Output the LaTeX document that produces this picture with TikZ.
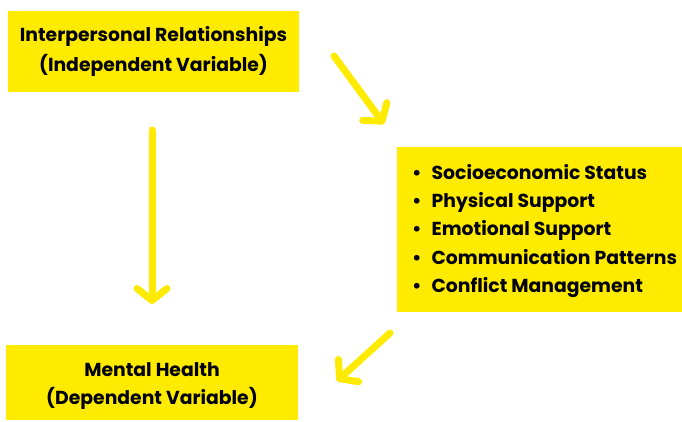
\documentclass[tikz,border=0pt]{standalone}
\usepackage{fontspec}
\setmainfont{Poppins}
\usetikzlibrary{arrows.meta}
\definecolor{boxyellow}{HTML}{FFEB00}

\begin{document}
\begin{tikzpicture}[x=1pt,y=-1pt,
        varbox/.style={fill=boxyellow,inner sep=0pt,align=center,font=\bfseries\fontsize{18.8}{30}\selectfont},
        yarrow/.style={draw=boxyellow,line width=7pt,line cap=round,
            -{Straight Barb[length=12pt,width=30pt,round]}}]
        \useasboundingbox (0,0) rectangle (682,421);
        \node[varbox,minimum width=291pt,minimum height=81pt] (indep) at (153.5,51.5)
            {Interpersonal Relationships\\(Independent Variable)};
        \node[varbox,minimum width=292pt,minimum height=75pt,font=\bfseries\fontsize{18.8}{28}\selectfont] (dep) at (152,382.5)
            {\raisebox{-4pt}[\height][\depth]{\parbox{280pt}{\centering Mental Health\\(Dependent Variable)}}};
        \node[varbox,minimum width=285pt,minimum height=165pt] (factorsbox) at (539.5,229.5) {};
        \node[anchor=west,inner sep=0pt,align=left,font=\bfseries\fontsize{18.8}{28.3}\selectfont] (factors) at (412,231)
            {\textbullet\hspace{10pt}Socioeconomic Status\\
             \textbullet\hspace{10pt}Physical Support\\
             \textbullet\hspace{10pt}Emotional Support\\
             \textbullet\hspace{10pt}Communication Patterns\\
             \textbullet\hspace{10pt}Conflict Management};
        \coordinate (a1s) at (152,130);
        \coordinate (a1e) at (152,304);
        \coordinate (a2s) at (334,56);
        \coordinate (a2e) at (384,124);
        \coordinate (a3s) at (390,333);
        \coordinate (a3e) at (337,381);
        \draw[yarrow] (a1s) -- (a1e);
        \draw[yarrow] (a2s) -- (a2e);
        \draw[yarrow] (a3s) -- (a3e);
\end{tikzpicture}
\end{document}
